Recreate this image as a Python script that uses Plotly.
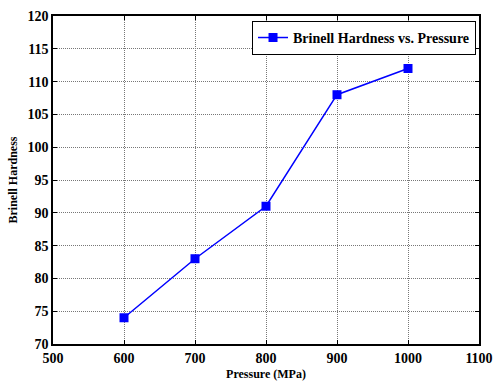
import plotly.graph_objects as go

pressure = [600, 700, 800, 900, 1000]
hardness = [74, 83, 91, 108, 112]
series_name = "Brinell Hardness vs. Pressure"
x_ticks = [500, 600, 700, 800, 900, 1000, 1100]
y_ticks = [70, 75, 80, 85, 90, 95, 100, 105, 110, 115, 120]

font = "Times New Roman, Liberation Serif, serif"
fig = go.Figure()
fig.add_trace(go.Scatter(
    x=pressure, y=hardness, mode="lines+markers", name="<b>" + series_name + "</b>",
    line=dict(color="#0000ff", width=1.5),
    marker=dict(symbol="square", size=9, color="#0000ff"),
))
axis_common = dict(
    showline=True, linecolor="black", linewidth=1.5, mirror="ticks",
    ticks="inside", ticklen=4, tickcolor="black",
    showgrid=True, gridcolor="#777777", griddash="1px,1px", gridwidth=1,
    zeroline=False, automargin=False,
    tickfont=dict(family=font, size=14, color="black"),
)
fig.update_xaxes(range=[500, 1100], tickvals=x_ticks, ticktext=["<b>%d</b>" % v for v in x_ticks],
                 title=dict(text="<b>Pressure (MPa)</b>", font=dict(family=font, size=12, color="black"), standoff=6), **axis_common)
fig.update_yaxes(range=[70, 120], tickvals=y_ticks, ticktext=["<b>%d</b>" % v for v in y_ticks],
                 title=dict(text="<b>Brinell Hardness</b>", font=dict(family=font, size=12, color="black"), standoff=7), **axis_common)
fig.update_layout(
    width=493, height=381,
    margin=dict(l=53, r=14, t=16, b=37),
    plot_bgcolor="white", paper_bgcolor="white",
    showlegend=True,
    legend=dict(x=0.993, y=0.985, xanchor="right", yanchor="top",
                bordercolor="black", borderwidth=1, bgcolor="white",
                font=dict(family=font, size=14, color="black"),
                itemwidth=30, tracegroupgap=0),
)
fig.write_html("out.html")
